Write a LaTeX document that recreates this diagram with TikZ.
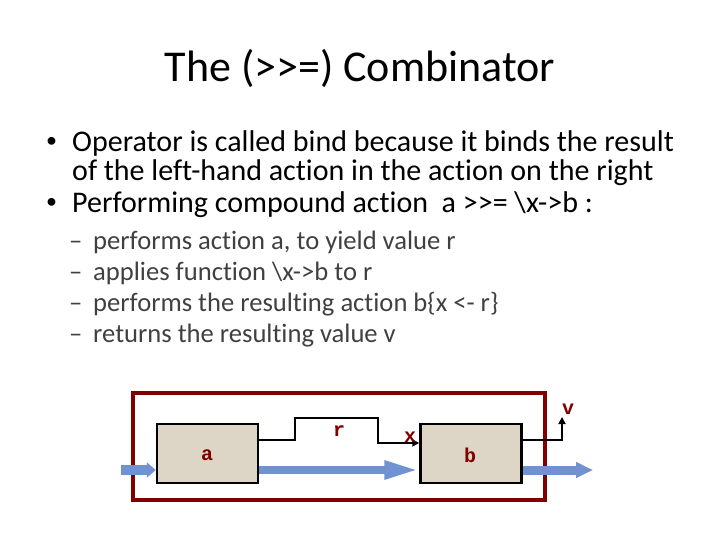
\documentclass[tikz,border=0pt]{standalone}
\usepackage{fontspec}
\setmainfont{Carlito}[Ligatures=NoCommon]
\newfontfamily\lblfont{Liberation Mono}
\usetikzlibrary{arrows.meta}
\definecolor{maroon}{RGB}{128,0,0}
\definecolor{boxfill}{RGB}{221,213,198}
\definecolor{arrowblue}{RGB}{112,146,208}
\definecolor{subgray}{RGB}{64,64,64}
\tikzset{
  txt/.style={anchor=base west, inner sep=0pt},
  title/.style={anchor=base, inner sep=0pt, font=\fontsize{44}{44}\selectfont},
  main/.style={txt, font=\fontsize{30}{30}\selectfont},
  bul/.style={txt, font=\fontsize{22}{22}\selectfont},
  sub/.style={txt, font=\fontsize{26.6}{26.6}\selectfont, text=subgray},
  actbox/.style={draw=black, line width=2.5pt, fill=boxfill, minimum width=101pt, minimum height=59pt, inner sep=0pt},
  lbl/.style={inner sep=0pt, font=\lblfont\bfseries\fontsize{20}{20}\selectfont, text=maroon},
  wire/.style={draw=black, line width=2.5pt},
  flow/.style={draw=arrowblue, line width=#1},
}
\newcommand{\gtgt}{>\kern0pt>}
\begin{document}
\begin{tikzpicture}[x=1pt,y=-1pt]
\useasboundingbox (0,0) rectangle (720,540);
\node[title] (t) at (360,82) {The (\gtgt=) Combinator};
\node[bul] (b1) at (46,148) {•};
\node[main] (l1) at (72,152) {Operator is called bind because it binds the result};
\node[main] (l2) at (72,181) {of the left-hand action in the action on the right};
\node[bul] (b2) at (46,209) {•};
\node[main] (l3) at (72,213) {Performing compound action \ a \gtgt= \textbackslash x->b :};
\node[sub] (d1) at (69,249) {–};
\node[sub] (s1) at (93,249) {performs action a, to yield value r};
\node[sub] (d2) at (69,280) {–};
\node[sub] (s2) at (93,280) {applies function \textbackslash x->b to r};
\node[sub] (d3) at (69,311) {–};
\node[sub] (s3) at (93,311) {performs the resulting action b\{x <- r\}};
\node[sub] (d4) at (69,342) {–};
\node[sub] (s4) at (93,342) {returns the resulting value v};

\draw[draw=maroon, line width=4pt] (133,393) rectangle (545,500);
\node[actbox] (a) at (207.5,453.5) {};
\node[actbox] (b) at (471,453.5) {};
\node[lbl] at (207,455) {a};
\node[lbl] at (470,455) {b};

\coordinate (in) at (121,470);
\coordinate (out) at (593,470);
\draw[flow=10pt, -{Triangle[length=9pt,width=15pt]}] (in) -- (in -| a.west);
\draw[flow=8pt, -{Triangle[length=35pt,width=17pt]}] (a.east |- in) -- (b.west |- in);
\draw[flow=9pt, -{Triangle[length=17pt,width=15pt]}] (b.east |- in) -- (out);

\coordinate (r1) at (295,440);
\coordinate (r2) at (378,418);
\draw[wire, -{Triangle[length=7pt,width=7pt]}] (a.east |- r1) -- (r1) -- (r1 |- r2) -- (r2) -- (378,443) -- (b.west |- 0,443);
\node[lbl] (r) at (339,431) {r};
\node[lbl] (x) at (410,437) {x};
\coordinate (vtop) at (562,417);
\draw[wire, -{Triangle[length=7pt,width=7pt]}] (b.east |- 0,440) -- (562,440) -- (vtop);
\node[lbl] (v) at (568,409) {v};
\end{tikzpicture}
\end{document}
